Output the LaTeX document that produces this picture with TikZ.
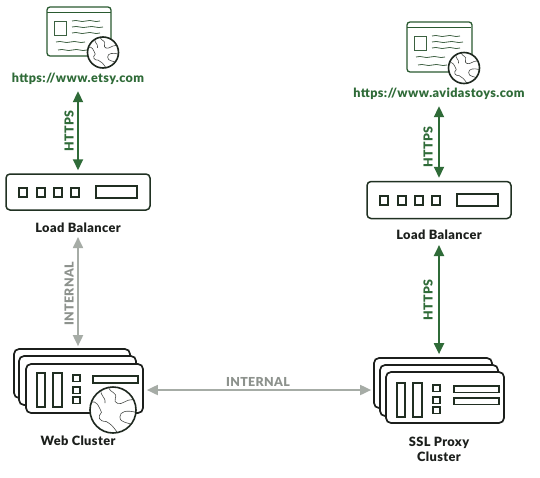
\documentclass[tikz,border=0pt]{standalone}
\usepackage{fontspec}
\setmainfont{Lato}[Scale=1.0,LetterSpace=3,BoldFont={Lato Black}]
\usetikzlibrary{arrows.meta}
\definecolor{lgreen}{HTML}{2F6B38}
\definecolor{dgreen}{HTML}{2A5A30}
\definecolor{lgrey}{HTML}{A6ACA6}
\definecolor{ink}{HTML}{1C1F1C}
\tikzset{
  labeltext/.style={font=\bfseries\fontsize{12.8}{14.5}\selectfont,text=ink,align=center,inner sep=1pt},
  urltext/.style={font=\bfseries\fontsize{12.6}{14}\selectfont,text=lgreen,inner sep=0pt,minimum height=16pt},
  linktext/.style={font=\bfseries\fontsize{12.4}{14}\selectfont,inner sep=0pt},
  greenlink/.style={draw=lgreen,line width=2pt,{Triangle[width=10pt,length=11pt]}-{Triangle[width=10pt,length=11pt]},shorten >=3pt,shorten <=4pt},
  greylink/.style={draw=lgrey,line width=1.8pt,{Triangle[width=10pt,length=11pt]}-{Triangle[width=10pt,length=11pt]},shorten >=2pt,shorten <=3pt},
  pagebox/.style={draw=dgreen,line width=1.3pt,rounded corners=3pt,fill=white,inner sep=0pt},
  lbbox/.style={draw=ink!70!dgreen,line width=1.5pt,rounded corners=4pt,fill=white,inner sep=0pt},
  serverbox/.style={draw=ink,line width=1.7pt,rounded corners=5pt,fill=white,inner sep=0pt},
  part/.style={draw=ink!75!dgreen,line width=1.2pt,fill=white},
  squiggle/.style={draw=dgreen!70!gray,line width=.8pt},
  map/.style={draw=ink!80,line width=.6pt}
}
% globe centred at #1,#2, radius #3
\newcommand{\globeicon}[3]{%
  \begin{scope}[shift={(#1,#2)},scale=#3]
    \fill[white] (0,0) circle (1);
    \begin{scope}
      \clip (0,0) circle (1);
      \draw[map] (-1,-.3) .. controls (-.7,-.5) and (-.6,-.1) .. (-.5,.1) .. controls (-.7,.3) and (-.6,.5) .. (-.3,.5) .. controls (-.1,.6) and (0,.7) .. (.2,1);
      \draw[map] (-.2,-1) .. controls (-.1,-.7) and (.2,-.8) .. (.1,-.5) .. controls (0,-.3) and (.3,-.2) .. (.5,-.35) .. controls (.7,-.5) and (.9,-.4) .. (1,-.5);
      \draw[map] (1,.1) .. controls (.6,0) and (.3,.05) .. (.3,.3) .. controls (.3,.6) and (.7,.5) .. (.9,.7);
      \draw[map] (-1,.5) .. controls (-.8,.7) and (-.6,.7) .. (-.5,.9);
      \draw[map] (-.5,-.9) .. controls (-.6,-.6) and (-.3,-.6) .. (-.35,-.3);
    \end{scope}
    \draw[ink!85!dgreen,line width=1.6pt] (0,0) circle (1);
  \end{scope}}
% squiggly text line from x=#1 to x=#2 at y=#3
\newcommand{\wavy}[3]{%
  \draw[squiggle] (#1,#3) .. controls ({#1+(#2-#1)*.2},{#3-2}) and ({#1+(#2-#1)*.3},{#3+2}) .. ({#1+(#2-#1)*.5},{#3}) .. controls ({#1+(#2-#1)*.7},{#3-2}) and ({#1+(#2-#1)*.8},{#3+2}) .. (#2,#3);}
% page icon content, origin at page top-left
\newcommand{\pagedetail}[2]{%
  \begin{scope}[shift={(#1,#2)}]
    \draw[dgreen,line width=.9pt] (0,5.5) -- (64,5.5);
    \draw[dgreen!80!gray,line width=1pt] (7,14) rectangle (19,28);
    \wavy{25}{53}{14}\wavy{25}{56}{20}\wavy{25}{53}{26}
    \wavy{9}{38}{35}\wavy{11}{40}{43}
  \end{scope}}
% load balancer content
\newcommand{\lbdetail}[2]{%
  \begin{scope}[shift={(#1,#2)}]
    \foreach \x in {13,31,48,65} \draw[part] (\x,14) rectangle +(8,9);
    \draw[part] (90,12) rectangle (131,24);
  \end{scope}}
% server front content
\newcommand{\slots}[2]{%
  \begin{scope}[shift={(#1,#2)}]
    \draw[part] (11,10) rectangle (19,44);
    \draw[part] (27,10) rectangle (36,44);
    \draw[part] (47,12) rectangle +(7,6.5);
    \draw[part] (47,24) rectangle +(7,6.5);
    \draw[part] (47,34) rectangle +(7,6.5);
  \end{scope}}
\begin{document}
\begin{tikzpicture}[x=1pt,y=-1pt]
\useasboundingbox (0,0) rectangle (540,477);
\fill[white] (0,0) rectangle (540,477);

% Left browser
\node[pagebox,minimum width=64pt,minimum height=49pt] (pageA) at (79,31.5) {};
\pagedetail{47}{7}
\globeicon{103}{52.5}{15.5}
\node[urltext] (urlA) at (78,79) {https://www.etsy.com};

% Right browser
\node[pagebox,minimum width=65pt,minimum height=50pt] (pageB) at (439.5,47) {};
\pagedetail{407}{22}
\globeicon{464}{68}{15.5}
\node[urltext] (urlB) at (439,94) {https://www.avidastoys.com};

% Left load balancer
\node[lbbox,minimum width=144pt,minimum height=36pt] (lbA) at (78,192) {};
\lbdetail{6}{174}
\node[labeltext] (lblLbA) at (78,228) {Load Balancer};

% Right load balancer
\node[lbbox,minimum width=144pt,minimum height=37pt] (lbB) at (439,200) {};
\lbdetail{367}{182}
\node[labeltext] (lblLbB) at (439,235) {Load Balancer};

% Web cluster
\node[serverbox,minimum width=116pt,minimum height=49pt] (webC) at (72,373.5) {};
\node[serverbox,minimum width=117pt,minimum height=49pt] (webB) at (77.5,380.5) {};
\node[serverbox,minimum width=117pt,minimum height=49pt] (webA) at (84.5,388.5) {};
\slots{26}{363}
\draw[part] (93,376) rectangle (138,383);
\globeicon{113}{410}{23}
\node[labeltext] (lblWeb) at (78,441) {Web Cluster};

% SSL proxy cluster
\node[serverbox,minimum width=118pt,minimum height=50pt] (sslC) at (433,383) {};
\node[serverbox,minimum width=118pt,minimum height=51pt] (sslB) at (439,390.5) {};
\node[serverbox,minimum width=118pt,minimum height=51pt] (sslA) at (445,397.5) {};
\slots{386}{373}
\draw[part] (454,386) rectangle (499,392.5);
\draw[part] (454,398) rectangle (499,404.5);
\node[labeltext] (lblSsl) at (439,449.5) {SSL Proxy\\Cluster};

% Connectors
\draw[greenlink] (urlA) -- (lbA);
\draw[greenlink] (urlB) -- (lbB);
\draw[greylink] (lblLbA.south) -- (lblLbA.south |- webC.north);
\draw[greenlink] (lblLbB.south) -- (lblLbB.south |- sslC.north);
\draw[greylink] (webA.east |- 0,390) -- (sslC.west |- 0,390);

% Connector labels
\node[linktext,text=lgreen,rotate=90] (tA) at (69,131) {HTTPS};
\node[linktext,text=lgreen,rotate=90] (tB) at (428,147) {HTTPS};
\node[linktext,text=lgreen,rotate=90] (tC) at (428,300) {HTTPS};
\node[linktext,text=lgrey!85!black,rotate=90] (tD) at (69,294) {INTERNAL};
\node[linktext,text=lgrey!85!black] (tE) at (258,382) {INTERNAL};
\end{tikzpicture}
\end{document}
